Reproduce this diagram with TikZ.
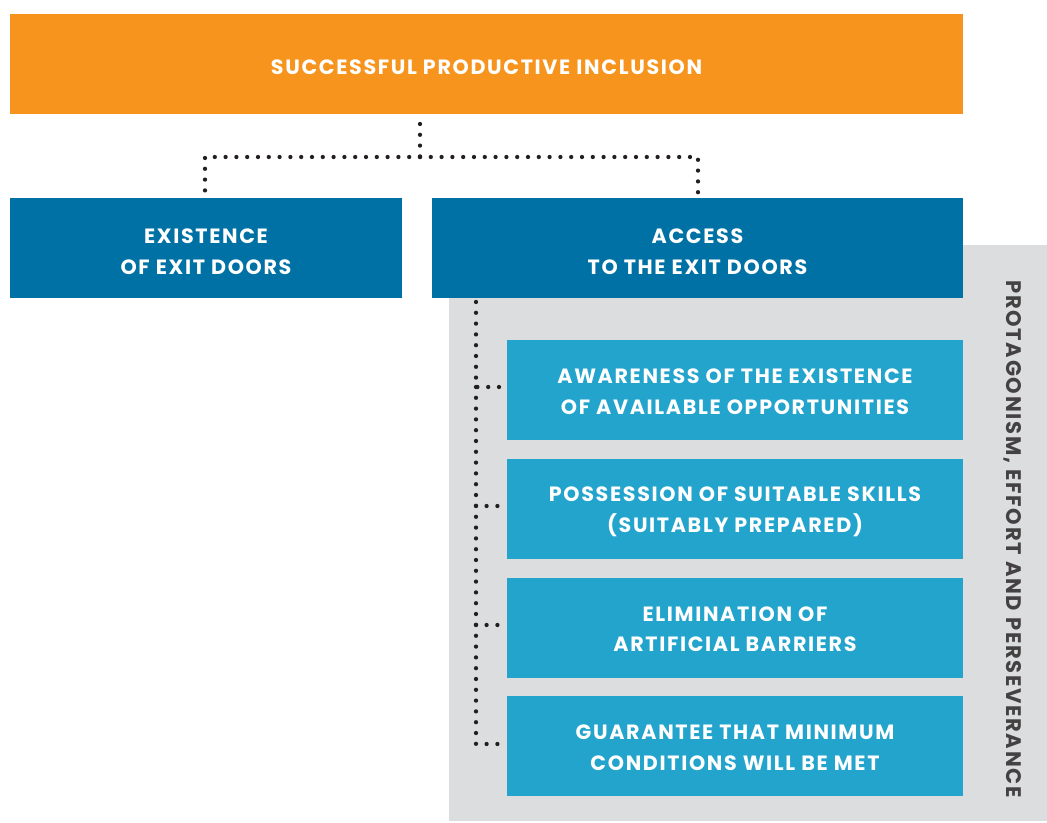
\documentclass[tikz,border=0pt]{standalone}
\usepackage{fontspec}
\setmainfont{Poppins}[LetterSpace=8]
\begin{document}
\definecolor{incorange}{HTML}{F7941D}
\definecolor{doorblue}{HTML}{0071A4}
\definecolor{stepblue}{HTML}{23A4CD}
\definecolor{panelgray}{HTML}{DCDDDF}
\definecolor{dotgray}{HTML}{231F20}
\begin{tikzpicture}[x=0.75pt,y=-0.75pt,
  boxtext/.style={text=white,font=\bfseries\fontsize{15.5}{23.2}\selectfont,align=center,inner sep=0pt},
  panel/.style={inner sep=0pt,minimum height=75pt},
  topbox/.style={panel,fill=incorange},
  doorbox/.style={panel,fill=doorblue},
  stepbox/.style={panel,fill=stepblue,minimum width=342pt},
  dotline/.style={draw=dotgray,line width=3.2pt,line cap=round,dash pattern=on 0pt off 8.1pt}]
\useasboundingbox (0,0) rectangle (1047,823);
% background panel behind the access conditions
\fill[panelgray] (449,245) rectangle (1047,821);
% boxes
\node[topbox,minimum width=714.75pt] (top) at (486.5,64) {};
\node[doorbox,minimum width=294pt] (exist) at (206,248) {};
\node[doorbox,minimum width=398.25pt] (access) at (697.5,248) {};
\node[stepbox] (aware) at (735,390) {};
\node[stepbox] (skills) at (735,509) {};
\node[stepbox] (barriers) at (735,628) {};
\node[stepbox] (minimum) at (735,746) {};
% box captions
\node[boxtext,yshift=-2.6pt] (top-t) at (top.center) {SUCCESSFUL PRODUCTIVE INCLUSION};
\node[boxtext,yshift=-2.8pt] (exist-t) at (exist.center) {EXISTENCE\\OF EXIT DOORS};
\node[boxtext,yshift=-2.8pt] (access-t) at (access.center) {ACCESS\\TO THE EXIT DOORS};
\node[boxtext,yshift=-1.6pt] (aware-t) at (aware.center) {AWARENESS OF THE EXISTENCE\\OF AVAILABLE OPPORTUNITIES};
\node[boxtext,yshift=-1.8pt] (skills-t) at (skills.center) {POSSESSION OF SUITABLE SKILLS\\(SUITABLY PREPARED)};
\node[boxtext,yshift=-0.9pt] (barriers-t) at (barriers.center) {ELIMINATION OF\\ARTIFICIAL BARRIERS};
\node[boxtext,yshift=-1.0pt] (minimum-t) at (minimum.center) {GUARANTEE THAT MINIMUM\\CONDITIONS WILL BE MET};
% side label
\node[rotate=-90,text=dotgray!85,font=\bfseries\fontsize{15.8}{16}\selectfont,inner sep=0pt] (side) at (1013,539) {PROTAGONISM, EFFORT AND PERSEVERANCE};
% tree connectors
\coordinate (fork) at (420,157);
\draw[dotline] (420,124) -- (fork);
\draw[dotline] (fork) -| (exist.north -| 205,0);
\draw[dotline] (fork) -| (access.north -| 698,0);
% access branch
\coordinate (spine) at (476,302);
\draw[dotline] (spine) |- (aware.west |- 0,387);
\draw[dotline] (476,387) |- (skills.west |- 0,506);
\draw[dotline] (476,506) |- (barriers.west |- 0,625);
\draw[dotline] (476,625) |- (minimum.west |- 0,744);
\end{tikzpicture}
\end{document}
